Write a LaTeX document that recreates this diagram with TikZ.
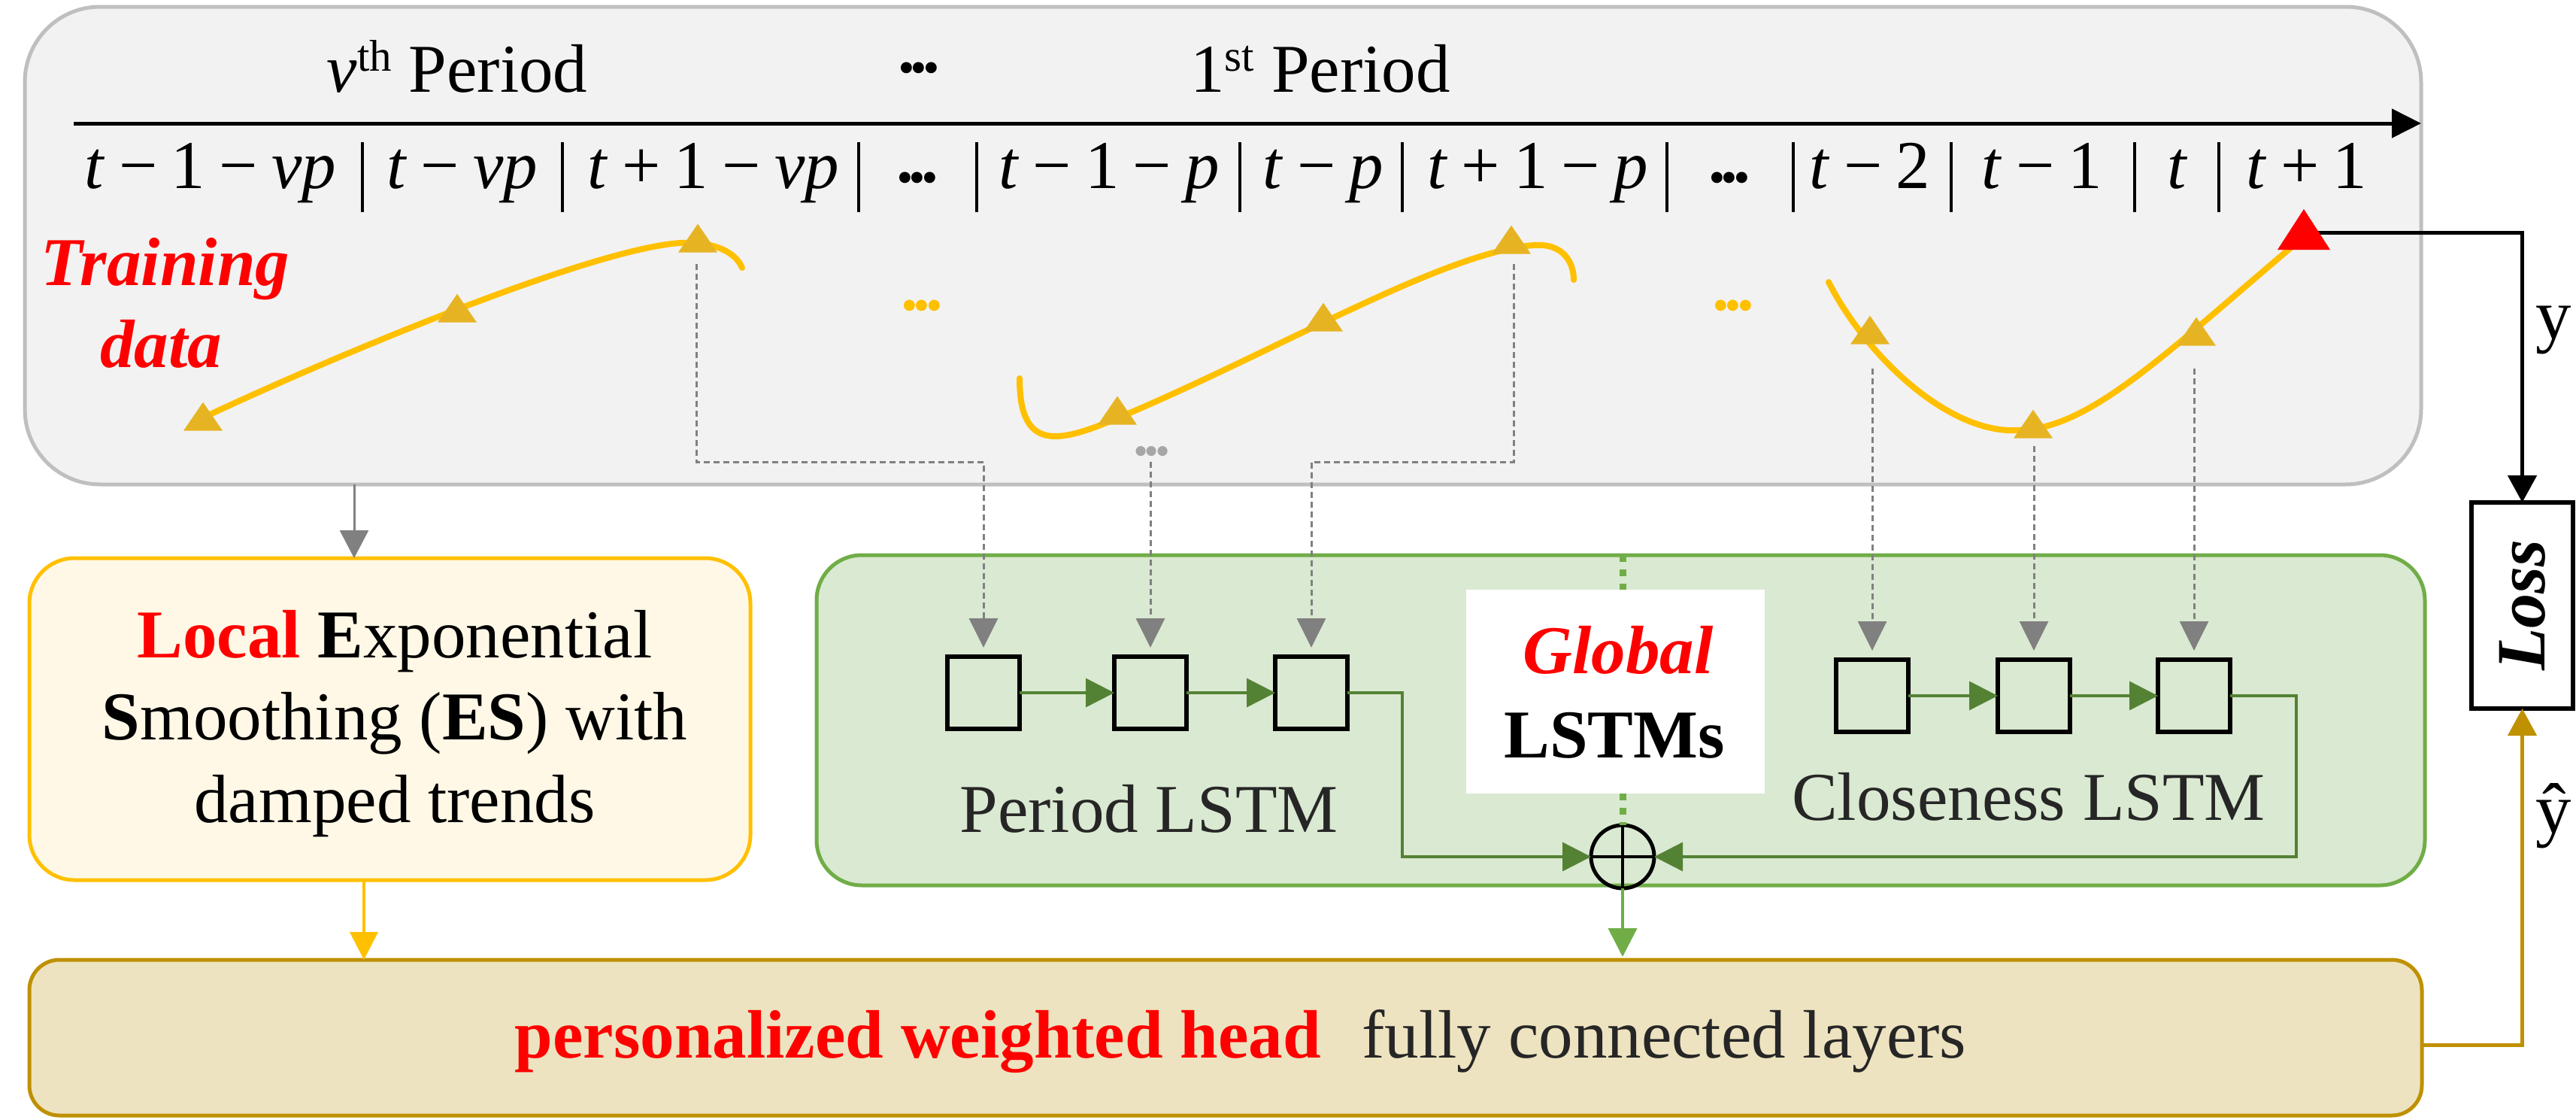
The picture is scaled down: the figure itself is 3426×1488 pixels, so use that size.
\documentclass[tikz,border=0pt]{standalone}
\usepackage{fontspec}
\setmainfont{Liberation Serif}
\usetikzlibrary{arrows.meta,calc}
\definecolor{gfill}{RGB}{242,242,242}
\definecolor{gbord}{RGB}{191,191,191}
\definecolor{lgfill}{RGB}{218,233,209}
\definecolor{lgbord}{RGB}{112,173,71}
\definecolor{dgreen}{RGB}{84,130,53}
\definecolor{esfill}{RGB}{255,248,230}
\definecolor{yel}{RGB}{255,192,0}
\definecolor{hfill}{RGB}{237,227,192}
\definecolor{hbord}{RGB}{191,144,0}
\definecolor{tgold}{RGB}{230,180,35}
\definecolor{dgrey}{RGB}{128,128,128}
\definecolor{lgrey}{RGB}{166,166,166}
\definecolor{txtg}{RGB}{38,38,38}
\definecolor{pred}{RGB}{255,0,0}
\newcommand\mo{\hspace{.2em}−\hspace{.2em}}
\newcommand\po{\hspace{.2em}+\hspace{.2em}}
\newcommand\ti{\textit{t}}
\newcommand\mktri[4]{\fill[#2] ($(#1)+(0,-#4*2/3)$) -- ($(#1)+(#3/2,#4/3)$) -- ($(#1)+(-#3/2,#4/3)$) -- cycle;}
\begin{document}
\begin{tikzpicture}[x=0.1mm,y=-0.1mm,
  font=\fontsize{25.9}{31}\selectfont,
  box/.style={draw, line width=0.5mm, inner sep=0pt, outer sep=0pt},
  txt/.style={inner sep=0pt, outer sep=0pt, anchor=base},
  dotn/.style={inner sep=0pt, outer sep=0pt, anchor=center},
  cell/.style={draw=black, line width=0.55mm, minimum width=9.6mm, minimum height=9.6mm, inner sep=0pt, outer sep=0pt},
  curve/.style={draw=yel, line width=0.8mm, line cap=round},
  dsh/.style={draw=dgrey, line width=0.3mm, dash pattern=on 0.8mm off 0.5mm, -{Triangle[length=3.9mm,width=3.8mm]}, shorten >=1.2mm},
  garr/.style={draw=dgreen, line width=0.35mm, -{Triangle[length=3.8mm,width=3.8mm]}},
  gdot/.style={draw=lgbord, line width=0.9mm, dash pattern=on 0.9mm off 1mm},
  larr/.style={draw=lgbord, line width=0.4mm, -{Triangle[length=3.8mm,width=3.8mm]}, shorten >=0.4mm},
  grarr/.style={draw=dgrey, line width=0.3mm, -{Triangle[length=3.7mm,width=3.8mm]}},
  yarr/.style={draw=yel, line width=0.4mm, -{Triangle[length=3.7mm,width=3.7mm]}},
  karr/.style={draw=black, line width=0.5mm, -{Triangle[length=3.6mm,width=3.8mm]}},
  oarr/.style={draw=hbord, line width=0.45mm, -{Triangle[length=3.6mm,width=3.8mm]}},
  plusn/.style={circle, draw=black, line width=0.5mm, minimum size=8.4mm, inner sep=0pt, outer sep=0pt,
    path picture={\draw[line width=0.45mm] (path picture bounding box.north) -- (path picture bounding box.south)
      (path picture bounding box.west) -- (path picture bounding box.east);}}
]
\useasboundingbox (0,0) rectangle (3426,1488);
\fill[white] (0,0) rectangle (3426,1488);

% boxes
\node[box, draw=gbord, fill=gfill, rounded corners=10mm, minimum width=318.7mm, minimum height=63.5mm] (gbox) at (1626.5,326.5) {};
\node[box, draw=lgbord, fill=lgfill, rounded corners=6mm, minimum width=213.9mm, minimum height=43.9mm] (green) at (2155.5,957.5) {};
\node[inner sep=0pt, outer sep=0pt, fill=white, minimum width=39.7mm, minimum height=27.1mm] (wbox) at (2148.5,919.5) {};
\node[box, draw=yel, fill=esfill, rounded corners=6mm, minimum width=95.9mm, minimum height=42.8mm] (es) at (518.5,956) {};
\node[box, draw=hbord, fill=hfill, rounded corners=4mm, minimum width=318.2mm, minimum height=20.7mm] (hbox) at (1630,1379.5) {};
\node[box, draw=black, fill=white, line width=0.55mm, minimum width=13.5mm, minimum height=27.4mm] (loss) at (3354.5,805) {};

% timeline
\coordinate (tl0) at (98,164);
\coordinate (tl1) at (3220,164);
\draw[line width=0.5mm, -{Triangle[length=3.9mm,width=3.8mm]}] (tl0) -- (tl1);

% header
\node[txt] (h1) at (608,122) {\textit{v}\raisebox{.3em}{\fontsize{16.8}{16.8}\selectfont th} Period};
\node[dotn] (hd) at (1222,90) {\textbf{.\kern-.07em.\kern-.07em.}};
\node[txt] (h2) at (1756,122) {1\raisebox{.3em}{\fontsize{16.8}{16.8}\selectfont st} Period};

% time labels
\node[txt] (l1) at (280,250) {\ti\mo 1\mo\textit{vp}};
\node[txt] (l2) at (615,250) {\ti\mo\textit{vp}};
\node[txt] (l3) at (949,250) {\ti\po 1\mo\textit{vp}};
\node[dotn] (ld1) at (1220,236) {\textbf{.\kern-.07em.\kern-.07em.}};
\node[txt] (l4) at (1475,250) {\ti\mo 1\mo\textit{p}};
\node[txt] (l5) at (1760,250) {\ti\mo\textit{p}};
\node[txt] (l6) at (2045,250) {\ti\po 1\mo\textit{p}};
\node[dotn] (ld2) at (2300,236) {\textbf{.\kern-.07em.\kern-.07em.}};
\node[txt] (l7) at (2487,250) {\ti\mo 2};
\node[txt] (l8) at (2716,250) {\ti\mo 1};
\node[txt] (l9) at (2896,250) {\ti};
\node[txt] (l10) at (3068,250) {\ti\po 1};
\foreach \sx in {482,748,1142,1299,1649,1865,2217,2385,2595,2839,2951}
  \draw[line width=0.45mm] (\sx,189) -- (\sx,282);

% training data label
\node[txt, text=pred] (tr1) at (220,379) {\textbf{\textit{Training}}};
\node[txt, text=pred] (tr2) at (214,488) {\textbf{\textit{data}}};

% curves
\draw[curve] (260,560) .. controls (450,470) and (790,330) .. (905,323) .. controls (950,321) and (978,335) .. (987,356);
\draw[curve] (1356,503) .. controls (1356,600) and (1406,590) .. (1486,556) .. controls (1700,466) and (1920,335) .. (2040,326) .. controls (2080,323) and (2093,350) .. (2093,372);
\coordinate (rt) at (3064,309);
\draw[karr] (rt) -| (loss.north);
\draw[curve] (2432,375) .. controls (2480,470) and (2590,578) .. (2685,572) .. controls (2780,570) and (2880,470) .. (3060,318);

% markers
\coordinate (m1) at (270,560);
\coordinate (m2) at (608,416);
\coordinate (m3) at (928,323);
\coordinate (m4) at (1486,552);
\coordinate (m5) at (1760,428);
\coordinate (m6) at (2010,325);
\coordinate (m7) at (2487,445);
\coordinate (m8) at (2704,570);
\coordinate (m9) at (2921,447);
\coordinate (mr) at (3064,314);
\foreach \m in {m1,m2,m3,m4,m5,m6,m7,m8,m9} {\mktri{\m}{tgold}{52}{38}}
\mktri{mr}{pred}{70}{54}

% dots
\node[dotn, text=yel] (yd1) at (1226,406) {\textbf{.\kern-.07em.\kern-.07em.}};
\node[dotn, text=yel] (yd2) at (2305,406) {\textbf{.\kern-.07em.\kern-.07em.}};
\node[dotn, text=lgrey, font=\fontsize{23}{23}\selectfont] (gd) at (1532,600) {\textbf{.\kern-.07em.\kern-.07em.}};

% LSTM cells
\node[cell] (p1) at (1308,921) {};
\node[cell] (p2) at (1530,921) {};
\node[cell] (p3) at (1744,921) {};
\node[cell] (c1) at (2490,925) {};
\node[cell] (c2) at (2705,925) {};
\node[cell] (c3) at (2918,925) {};
\draw[garr] (p1) -- (p2);
\draw[garr] (p2) -- (p3);
\draw[garr] (c1) -- (c2);
\draw[garr] (c2) -- (c3);

% dashed inputs
\coordinate (jy) at (0,614);
\coordinate (d3) at (926,351);
\coordinate (dg) at (1530,614);
\coordinate (d6) at (2013,351);
\coordinate (d7) at (2490,490);
\coordinate (d8) at (2705,593);
\coordinate (d9) at (2918,490);
\draw[dsh] (d3) |- (p1.north |- jy) -- (p1.north);
\draw[dsh] (dg) -- (p2.north);
\draw[dsh] (d6) |- (p3.north |- jy) -- (p3.north);
\draw[dsh] (d7) -- (c1.north);
\draw[dsh] (d8) -- (c2.north);
\draw[dsh] (d9) -- (c3.north);

% plus
\node[plusn] (plus) at (2158,1139) {};
\draw[garr] (p3.east) -- ++(73,0) |- (plus.west);
\draw[garr] (c3.east) -- ++(88,0) |- (plus.east);
\draw[gdot] (green.north -| plus) -- (wbox.north -| plus);
\draw[gdot] (wbox.south -| plus) -- (plus.north);
\draw[larr] (plus.south) -- (hbox.north -| plus);

% ES arrows
\coordinate (ga) at (471,0);
\coordinate (ya) at (484,0);
\draw[grarr] (gbox.south -| ga) -- (es.north -| ga);
\draw[yarr] (es.south -| ya) -- (hbox.north -| ya);

% output arrow
\draw[oarr] ([yshift=-1mm]hbox.east) -| (loss.south);

% texts
\node[txt] (es1) at (525,874) {\textcolor{pred}{\textbf{Local}} \textbf{E}xponential};
\node[txt] (es2) at (525,983) {\textbf{S}moothing (\textbf{ES}) with};
\node[txt] (es3) at (525,1093) {damped trends};
\node[txt, text=txtg] (pl) at (1528,1106) {Period LSTM};
\node[txt, text=txtg] (cl) at (2698,1090) {Closeness LSTM};
\node[txt, text=pred] (glob) at (2152,895) {\textbf{\textit{Global}}};
\node[txt] (lstms) at (2147,1007) {\textbf{LSTMs}};
\node[txt] (head) at (1650,1406) {\textcolor{pred}{\textbf{personalized weighted head}}\hspace{0.6em}\textcolor{txtg}{fully connected layers}};
\node[inner sep=0pt, rotate=90, font=\fontsize{26.2}{26.2}\selectfont] (losst) at (loss.center) {\textbf{\textit{Loss}}};
\node[txt, anchor=base west, font=\fontsize{27}{27}\selectfont] (ylab) at (3372,450) {y};
\node[txt, anchor=base west, font=\fontsize{27}{27}\selectfont] (yhat) at (3372,1107) {ŷ};
\end{tikzpicture}
\end{document}
